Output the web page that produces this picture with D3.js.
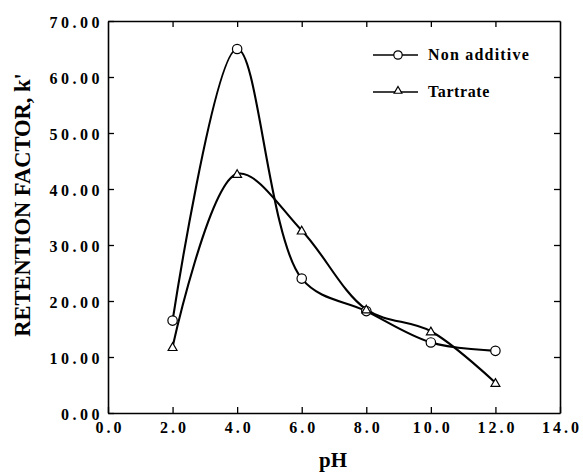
<!DOCTYPE html>
<html>
<head>
<meta charset="utf-8">
<script src="https://cdn.jsdelivr.net/npm/d3@7"></script>
<style>
  html, body { margin: 0; padding: 0; background: #fff; }
  svg { display: block; }
  text { font-family: "Liberation Serif", "Times New Roman", serif; font-weight: bold; fill: #000; }
</style>
</head>
<body>
<script>
// ---- data ----
const pH = [2, 4, 6, 8, 10, 12];
const nonAdditive = [16.5, 65.0, 24.0, 18.2, 12.6, 11.1];
const tartrate = [11.8, 42.7, 32.6, 18.5, 14.6, 5.4];
const seriesNames = ["Non additive", "Tartrate"];
const xTicks = [0, 2, 4, 6, 8, 10, 12, 14];
const yTicks = [0, 10, 20, 30, 40, 50, 60, 70];
const xTitle = "pH";
const yTitle = "RETENTION FACTOR, k'";

const W = 583, H = 473;
const mLeft = 108, mRight = 560, mTop = 21, mBottom = 413;

const svg = d3.select("body").append("svg").attr("width", W).attr("height", H);

const x = d3.scaleLinear().domain([0, 14]).range([mLeft, mRight]);
const y = d3.scaleLinear().domain([0, 70]).range([mBottom, mTop]);

const tickLen = 6;
const axB = d3.axisBottom(x).tickValues(xTicks).tickSizeInner(-tickLen).tickSizeOuter(0).tickFormat(d => d.toFixed(1)).tickPadding(8);
const axT = d3.axisTop(x).tickValues(xTicks).tickSizeInner(-tickLen).tickSizeOuter(0).tickFormat("");
const axL = d3.axisLeft(y).tickValues(yTicks).tickSizeInner(-tickLen).tickSizeOuter(0).tickFormat(d => d.toFixed(2)).tickPadding(8);
const axR = d3.axisRight(y).tickValues(yTicks).tickSizeInner(-tickLen).tickSizeOuter(0).tickFormat("");

function style(g) {
  g.select(".domain").attr("stroke", "#000").attr("stroke-width", 1.6);
  g.selectAll(".tick line").attr("stroke", "#000").attr("stroke-width", 1.3);
}

const gB = svg.append("g").attr("transform", `translate(0,${mBottom})`).call(axB).call(style);
gB.selectAll(".tick text").attr("font-size", 16).attr("font-family", "Liberation Serif").attr("font-weight", "bold")
  .attr("letter-spacing", "3px").attr("fill", "#000").attr("dy", "0.72em").attr("y", 8).attr("dx", 1.5);
const gT = svg.append("g").attr("transform", `translate(0,${mTop})`).call(axT).call(style);
const gL = svg.append("g").attr("transform", `translate(${mLeft},0)`).call(axL).call(style);
gL.selectAll(".tick text").attr("font-size", 16).attr("font-family", "Liberation Serif").attr("font-weight", "bold")
  .attr("letter-spacing", "3.5px").attr("fill", "#000").attr("dy", "0.4em").attr("x", -5);
const gR = svg.append("g").attr("transform", `translate(${mRight},0)`).call(axR).call(style);
gT.selectAll(".tick").filter(d => d === 0 || d === 14).remove();
gR.selectAll(".tick").filter(d => d === 0 || d === 70).remove();

// axis titles
svg.append("text").attr("x", x(7) - 1).attr("y", 467).attr("text-anchor", "middle")
  .attr("font-size", 21).text(xTitle);
svg.append("text").attr("transform", `translate(30,${(70 + 340) / 2}) rotate(-90)`)
  .attr("text-anchor", "middle").attr("font-size", 22.5).text(yTitle);

// lines
const line = d3.line().x(d => x(d[0])).y(d => y(d[1])).curve(d3.curveCatmullRom.alpha(0.5));
const dataNA = pH.map((p, i) => [p, nonAdditive[i]]);
const dataT = pH.map((p, i) => [p, tartrate[i]]);

svg.append("path").datum(dataNA).attr("d", line).attr("fill", "none").attr("stroke", "#000").attr("stroke-width", 2.1);
svg.append("path").datum(dataT).attr("d", line).attr("fill", "none").attr("stroke", "#000").attr("stroke-width", 2.1);

const tri = d3.symbol().type(d3.symbolTriangle).size(34);

svg.selectAll("circle.na").data(dataNA).join("circle").attr("class", "na")
  .attr("cx", d => x(d[0])).attr("cy", d => y(d[1])).attr("r", 4.7)
  .attr("fill", "#fff").attr("stroke", "#000").attr("stroke-width", 1.2);
svg.selectAll("path.tr").data(dataT).join("path").attr("class", "tr")
  .attr("d", tri).attr("transform", d => `translate(${x(d[0])},${y(d[1]) + 1})`)
  .attr("fill", "#fff").attr("stroke", "#000").attr("stroke-width", 1.2);

// legend
const lg = svg.append("g");
const legY = [55, 92];
lg.append("line").attr("x1", 373).attr("x2", 418).attr("y1", legY[0]).attr("y2", legY[0]).attr("stroke", "#000").attr("stroke-width", 1.6);
lg.append("circle").attr("cx", 398).attr("cy", legY[0]).attr("r", 4.2).attr("fill", "#fff").attr("stroke", "#000").attr("stroke-width", 1.2);
lg.append("text").attr("x", 428).attr("y", legY[0] + 5).attr("font-size", 16).attr("letter-spacing", "1.2px").text(seriesNames[0]);
lg.append("line").attr("x1", 373).attr("x2", 418).attr("y1", legY[1]).attr("y2", legY[1]).attr("stroke", "#000").attr("stroke-width", 1.6);
lg.append("path").attr("d", d3.symbol().type(d3.symbolTriangle).size(26)).attr("transform", `translate(398,${legY[1] - 1})`).attr("fill", "#fff").attr("stroke", "#000").attr("stroke-width", 1.2);
lg.append("text").attr("x", 428).attr("y", legY[1] + 5).attr("font-size", 16).attr("letter-spacing", "0.6px").text(seriesNames[1]);
</script>
</body>
</html>
